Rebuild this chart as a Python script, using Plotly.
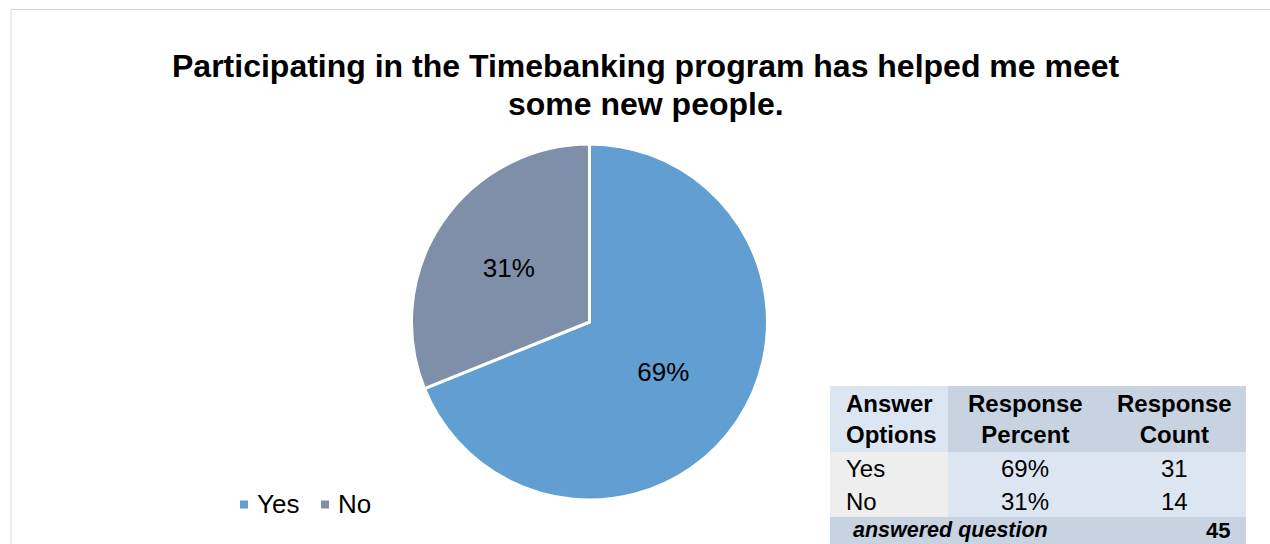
import plotly.graph_objects as go

# Survey responses
options = ["Yes", "No"]
response_percent = ["69%", "31%"]
response_count = [31, 14]
answered_total = 45

title_lines = [
    "Participating in the Timebanking program has helped me meet",
    "some new people.",
]
table_header = ["Answer<br>Options", "Response<br>Percent", "Response<br>Count"]

W, H = 1270, 544
FONT = "Liberation Sans, Arial, sans-serif"
pie_colors = ["#619ED2", "#7F8FA9"]


def px(x):
    return x / W


def py(y):
    return 1 - y / H


fig = go.Figure()

fig.add_trace(go.Pie(
    labels=options,
    values=response_count,
    sort=False,
    direction="clockwise",
    rotation=0,
    marker=dict(colors=pie_colors, line=dict(color="white", width=3)),
    texttemplate="%{percent:.0%}",
    textposition="inside",
    insidetextorientation="horizontal",
    textfont=dict(family=FONT, size=26, color="black"),
    domain=dict(x=[px(411), px(768)], y=[py(500), py(144)]),
    hoverinfo="label+value+percent",
    showlegend=False,
))

shapes = []
annotations = []

# outer chart frame
shapes.append(dict(type="rect", xref="paper", yref="paper",
                   x0=px(11), x1=px(1300), y0=py(600), y1=py(9.5),
                   line=dict(color="#D9D9D9", width=1), fillcolor="rgba(0,0,0,0)",
                   layer="below"))

# chart title
for i, line in enumerate(title_lines):
    annotations.append(dict(
        text=f"<b>{line}</b>", xref="paper", yref="paper",
        x=px(646), y=py(66 + i * 38), xanchor="center", yanchor="middle",
        showarrow=False, font=dict(family=FONT, size=32, color="black")))

# legend: small colour squares followed by the category names
legend_x = [240, 321]
for name, color, x0 in zip(options, pie_colors, legend_x):
    shapes.append(dict(type="rect", xref="paper", yref="paper",
                       x0=px(x0), x1=px(x0 + 8), y0=py(508.5), y1=py(500.5),
                       line=dict(width=0), fillcolor=color))
    annotations.append(dict(text=name, xref="paper", yref="paper",
                            x=px(x0 + 15), y=py(504), xanchor="left", yanchor="middle",
                            showarrow=False, font=dict(family=FONT, size=26, color="black")))

# summary table
col_edges = [830, 948, 1102, 1246]
row_edges = [386, 452, 485, 517, 552]
head_dark = "#C8D3E2"
head_light = "#DCE6F2"
body_grey = "#EEEEEE"
body_blue = "#DCE6F2"

n_rows = len(options)
fills = [[head_light, head_dark, head_dark]]
for _ in range(n_rows):
    fills.append([body_grey, body_blue, body_blue])
fills.append([head_dark, head_dark, head_dark])

for r in range(len(row_edges) - 1):
    for c in range(len(col_edges) - 1):
        shapes.append(dict(type="rect", xref="paper", yref="paper",
                           x0=px(col_edges[c]), x1=px(col_edges[c + 1]),
                           y0=py(row_edges[r + 1]), y1=py(row_edges[r]),
                           line=dict(width=0), fillcolor=fills[r][c], layer="below"))

TF = 24
pad = 14


def cell_text(text, r, c, align="center", bold=False, italic=False):
    if bold:
        text = f"<b>{text}</b>"
    if italic:
        text = f"<i>{text}</i>"
    yc = (row_edges[r] + row_edges[r + 1]) / 2
    if align == "left":
        x, xa = col_edges[c] + pad, "left"
    elif align == "right":
        x, xa = col_edges[c + 1] - pad, "right"
    else:
        x, xa = (col_edges[c] + col_edges[c + 1]) / 2, "center"
    annotations.append(dict(text=text, xref="paper", yref="paper", x=px(x), y=py(yc),
                            xanchor=xa, yanchor="middle", align=xa,
                            showarrow=False, font=dict(family=FONT, size=TF, color="black")))


cell_text(table_header[0], 0, 0, align="left", bold=True)
cell_text(table_header[1], 0, 1, bold=True)
cell_text(table_header[2], 0, 2, bold=True)
for i, (opt, pct, cnt) in enumerate(zip(options, response_percent, response_count)):
    cell_text(opt, i + 1, 0, align="left")
    cell_text(pct, i + 1, 1)
    cell_text(str(cnt), i + 1, 2)

# total row at the lower edge of the page
yc_total = 530
annotations.append(dict(text="<b><i>answered question</i></b>", xref="paper", yref="paper",
                        x=px(950), y=py(yc_total), xanchor="center", yanchor="middle",
                        showarrow=False, font=dict(family=FONT, size=21.5, color="black")))
annotations.append(dict(text=f"<b>{answered_total}</b>", xref="paper", yref="paper",
                        x=px(1232), y=py(yc_total), xanchor="right", yanchor="middle",
                        showarrow=False, font=dict(family=FONT, size=22, color="black")))

fig.update_layout(
    width=W, height=H,
    margin=dict(l=0, r=0, t=0, b=0),
    paper_bgcolor="white",
    plot_bgcolor="white",
    font=dict(family=FONT, color="black"),
    showlegend=False,
    shapes=shapes,
    annotations=annotations,
)

fig.write_html("out.html")
